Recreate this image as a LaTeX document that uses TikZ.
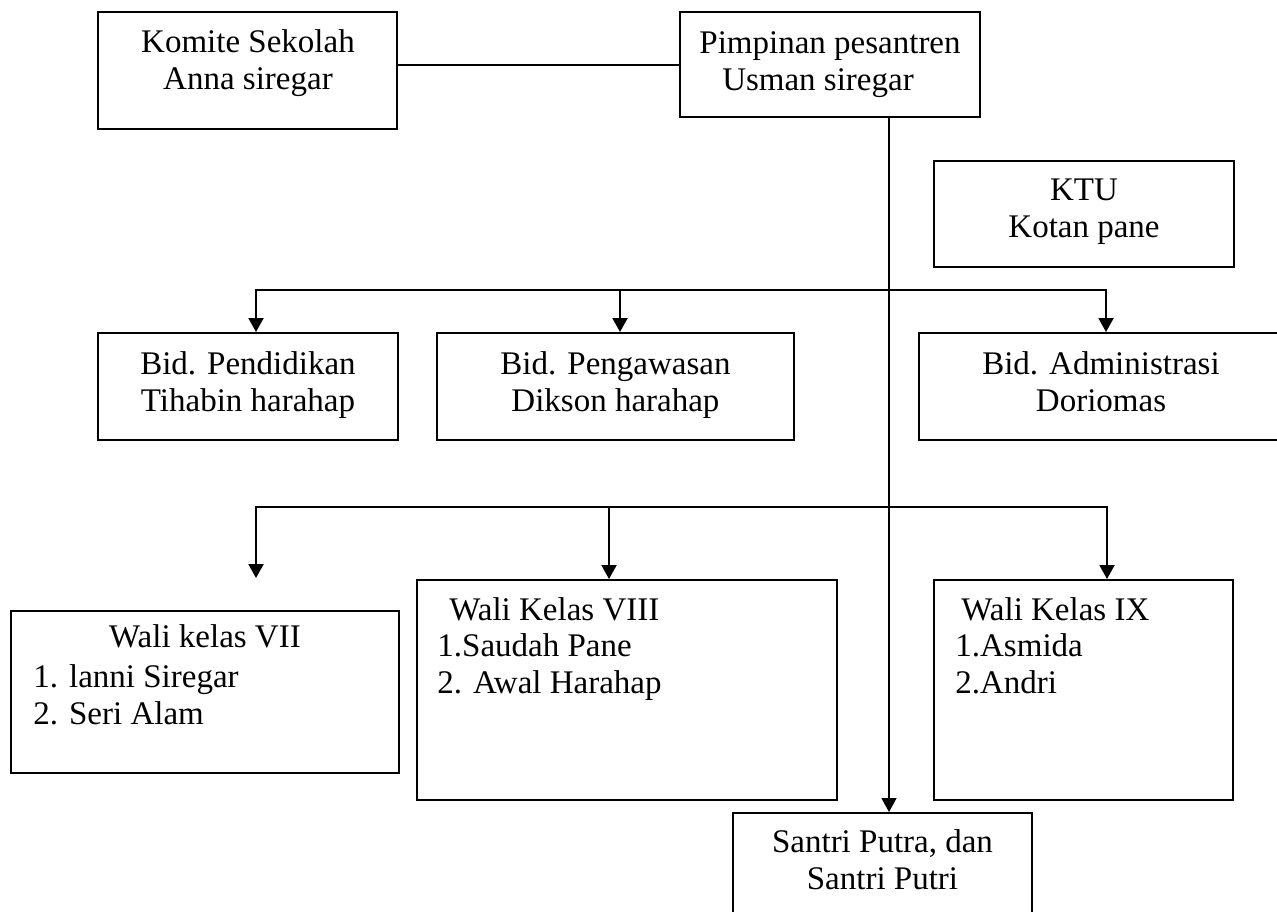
\documentclass[tikz,border=0pt]{standalone}
\usepackage{fontspec}
\setmainfont{Liberation Serif}
\usetikzlibrary{arrows.meta,fit,calc}

\tikzset{
  kotak/.style={draw, line width=1pt, inner sep=0pt},
  teks/.style={font=\fontsize{16.5}{18.5}\selectfont, inner sep=0pt, align=center, anchor=base},
  daftar/.style={font=\fontsize{16.5}{18.5}\selectfont, inner sep=0pt, align=left, anchor=base west},
  garis/.style={line width=1pt},
}

\begin{document}
\begin{tikzpicture}[x=0.5pt,y=-0.5pt,>={Triangle[length=7pt,width=7.5pt]}]
  \clip (0,0) rectangle (1277,911);
  % kotak
  \node[kotak, fit={(98,12) (397,129)}] (komite) {};
  \node[kotak, fit={(680,12) (980,117)}] (pimpinan) {};
  \node[kotak, fit={(934,161) (1234,267)}] (ktu) {};
  \node[kotak, fit={(98,333) (398,440)}] (bidpend) {};
  \node[kotak, fit={(437,333) (794,440)}] (bidawas) {};
  \node[kotak, fit={(919,333) (1283,440)}] (bidadm) {};
  \node[kotak, fit={(11,611) (399,773)}] (wali7) {};
  \node[kotak, fit={(417,580) (837,800)}] (wali8) {};
  \node[kotak, fit={(934,580) (1233,800)}] (wali9) {};
  \node[kotak, fit={(733,813) (1032,950)}] (santri) {};

  % isi kotak (titik = garis dasar baris terakhir)
  \node[teks] (tkomite) at (248,89) {Komite Sekolah\\Anna siregar};
  \node[teks] (tpimpinan) at (830,90) {Pimpinan pesantren\\Usman siregar\hspace*{12pt}};
  \node[teks] (tktu) at (1084,237) {KTU\\Kotan pane};
  \node[teks] (tbidpend) at (248,411) {Bid. Pendidikan\\Tihabin harahap};
  \node[teks] (tbidawas) at (615.5,411) {Bid. Pengawasan\\Dikson harahap};
  \node[teks] (tbidadm) at (1101,411) {Bid. Administrasi\\Doriomas};
  \node[teks] (twali7) at (205,647) {Wali kelas VII};
  \node[daftar] (dwali7) at (33,724) {1. lanni Siregar\\2. Seri Alam};
  \node[daftar] (twali8) at (449,620) {Wali Kelas VIII};
  \node[daftar] (dwali8) at (437,693) {1.Saudah Pane\\2. Awal Harahap};
  \node[daftar] (twali9) at (961,620) {Wali Kelas IX};
  \node[daftar] (dwali9) at (955,693) {1.Asmida\\2.Andri};
  \node[teks] (tsantri) at (882.5,889) {Santri Putra, dan\\Santri Putri};

  % garis
  \draw[garis] (pimpinan.west) -- (pimpinan.west -| komite.east);
  \coordinate (pusat) at (889,117);
  \draw[line width=0.8pt,->] (pusat) -- (pusat |- santri.north);
  \coordinate (cabang1) at (889,290);
  \foreach \n/\dx in {bidpend/4pt,bidawas/2.25pt,bidadm/2.5pt}
    \draw[garis,->] (cabang1) -| ([xshift=\dx]\n.north);
  \coordinate (cabang2) at (889,507);
  \draw[garis,->] (cabang2) -| ([xshift=25.5pt,yshift=16pt]wali7.north);
  \draw[garis,->] (cabang2) -| ([xshift=-9pt]wali8.north);
  \draw[garis,->] (cabang2) -| ([xshift=11.75pt]wali9.north);
\end{tikzpicture}
\end{document}
